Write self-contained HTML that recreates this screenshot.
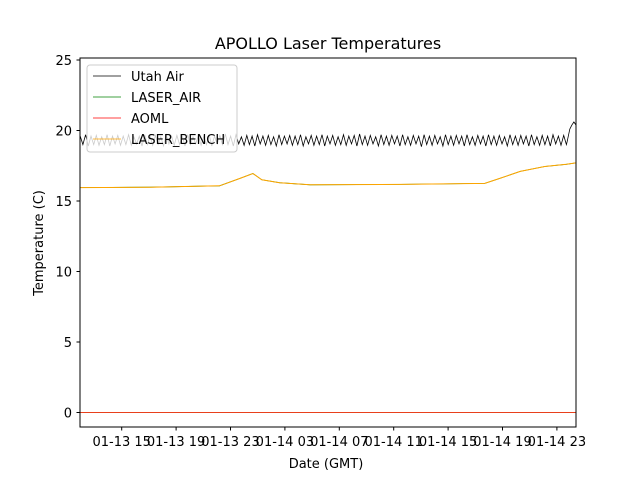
<!DOCTYPE html>
<html><head><meta charset="utf-8"><style>
body{margin:0;background:#fff;font-family:"Liberation Sans","DejaVu Sans",sans-serif}
svg text{font-family:"DejaVu Sans","Liberation Sans",sans-serif;fill:#000}
</style></head><body>
<svg id="c" width="640" height="480" xmlns="http://www.w3.org/2000/svg">
<rect width="640" height="480" fill="#fff"/>
<text x="328" y="49" font-size="16" text-anchor="middle">APOLLO Laser Temperatures</text>
<g id="plot"></g>
<rect x="80" y="58" width="496" height="369" fill="none" stroke="#000" stroke-width="1"/>
<g id="axes"></g>
<text x="326" y="468" font-size="13" text-anchor="middle">Date (GMT)</text>
<text transform="translate(43,243) rotate(-90)" font-size="13" text-anchor="middle">Temperature (C)</text>
<g>
<rect x="87" y="65" width="150" height="87" rx="3" fill="#fff" fill-opacity="0.8" stroke="#ccc"/>
<line x1="93" y1="76" x2="121" y2="76" stroke="#000" stroke-width="0.8"/><text x="131" y="81" font-size="13">Utah Air</text>
<line x1="93" y1="97" x2="121" y2="97" stroke="green" stroke-width="0.8"/><text x="131" y="102" font-size="13">LASER_AIR</text>
<line x1="93" y1="118" x2="121" y2="118" stroke="red" stroke-width="0.8"/><text x="131" y="123" font-size="13">AOML</text>
<line x1="93" y1="139" x2="121" y2="139" stroke="orange" stroke-width="0.8"/><text x="131" y="144" font-size="13">LASER_BENCH</text>
</g>
</svg>
<script>
const yTicks=[0,5,10,15,20,25];
const xTickHours=[15,19,23,27,31,35,39,43,47];
const xTickLabels=["01-13 15","01-13 19","01-13 23","01-14 03","01-14 07","01-14 11","01-14 15","01-14 19","01-14 23"];
const benchHours=[11.93,17.1,22.2,23.7,24.65,25.3,26.6,28.85,35.5,41.7,42.8,44.3,46.1,47.7,48.4];
const benchValues=[15.95,15.98,16.08,16.6,16.95,16.5,16.3,16.15,16.18,16.25,16.6,17.1,17.45,17.6,17.7];
const aomlHours=[11.93,48.4];
const aomlValues=[0,0];
const utahStartHour=11.95, utahEndHour=47.7;
const utahValues=[19.6,19.0,19.7,18.9,19.6,19.0,19.65,18.95,19.55,19.0,19.7,18.9,19.6,19.05,19.65,18.95,19.6,19.0,19.7,18.95,
19.55,19.05,19.6,18.9,19.7,19.0,19.6,18.95,19.65,19.0,19.55,18.9,19.7,19.05,19.6,18.95,19.65,19.0,19.6,18.9,
19.7,19.0,19.55,19.05,19.65,18.95,19.6,19.0,19.7,18.9,19.6,19.05,19.65,18.95,19.75,19.0,19.6,18.9,19.7,19.05,
19.55,18.95,19.65,19.0,19.6,18.9,19.7,19.05,19.6,18.95,19.65,19.0,19.55,18.9,19.7,19.0,19.6,19.05,19.65,18.95,
19.6,19.0,19.7,18.9,19.55,19.05,19.65,18.95,19.6,19.0,19.7,18.9,19.6,19.05,19.65,18.95,19.55,19.0,19.7,18.95,
19.6,19.05,19.65,18.9,19.75,19.0,19.6,18.95,19.65,19.05,19.55,18.9,19.7,19.0,19.6,18.95,19.65,19.05,19.6,18.9,
19.7,19.0,19.55,18.95,19.65,19.05,19.6,18.85,19.7,19.0,19.6,18.95,19.65,19.05,19.55,18.9,19.7,19.0,19.6,18.95,
19.65,19.05,19.6,18.9,19.7,19.0,19.55,18.95,19.65,19.05,19.6,18.9,19.7,19.0,19.6,18.95,19.65,19.05,19.55,18.9,
19.7,19.0,19.6,18.95,19.65,19.05,19.6,18.9,19.7,19.0,19.55,18.95,19.65,19.0,19.6,18.9,19.7,19.05,19.6,18.95,19.65,19.0];
const utahTailHours=[47.75,47.95,48.1,48.25,48.4];
const utahTailValues=[19.2,20.1,20.4,20.6,20.4];
const ns="http://www.w3.org/2000/svg";
function X(h){return 121.7+(h-15)*13.6;}
function Y(v){return 412.5-v*14.1;}
const plot=document.getElementById('plot'),axes=document.getElementById('axes');
function mk(t,a,p){const e=document.createElementNS(ns,t);for(const k in a)e.setAttribute(k,a[k]);p.appendChild(e);return e;}
function path(hs,vs,color,w,name){let d='';hs.forEach((h,i)=>{d+=(i?'L':'M')+X(h).toFixed(1)+' '+Y(vs[i]).toFixed(1);});
const p=mk('path',{d:d,fill:'none',stroke:color,'stroke-width':w},plot);

}
const uStep=(utahEndHour-utahStartHour)/(utahValues.length-1);
const uh=utahValues.map((v,i)=>utahStartHour+i*uStep).concat(utahTailHours);
const uv=utahValues.concat(utahTailValues);
path(uh,uv,'#000',0.8,'utah-air-line');
path(benchHours,benchValues,'green',0.8,'laser-air-line');
path(benchHours,benchValues,'orange',1,'laser-bench-line');
path(aomlHours,aomlValues,'#e8401c',1,'aoml-line');
yTicks.forEach(v=>{const y=Y(v);mk('line',{x1:76.5,x2:80,y1:y,y2:y,stroke:'#000'},axes);
const t=mk('text',{x:72,y:y+5,'font-size':13,'text-anchor':'end'},axes);t.textContent=v;

});
xTickHours.forEach((h,i)=>{const x=X(h);mk('line',{x1:x,x2:x,y1:427,y2:430.5,stroke:'#000'},axes);
const t=mk('text',{x:x,y:446,'font-size':13,'text-anchor':'middle'},axes);t.textContent=xTickLabels[i];

});
</script>
</body></html>
